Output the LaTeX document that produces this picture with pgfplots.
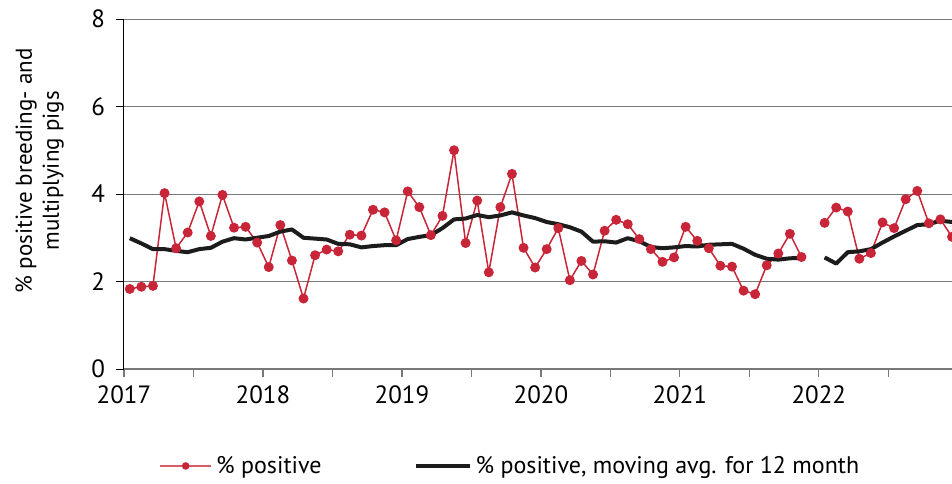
\documentclass[border=0pt]{standalone}
\usepackage{fontspec}
\setmainfont{PT Sans}
\usepackage{pgfplots}
\usepackage{pgfplotstable}
\pgfplotsset{compat=1.18}

\definecolor{posred}{RGB}{200,38,56}
\definecolor{avgblack}{RGB}{28,28,28}
\definecolor{gridgray}{RGB}{120,120,120}

% month index m (1 = Jan 2017), plotted at m-0.5
\pgfplotstableread{
m pos avg
1 1.83 2.99
2 1.88 2.87
3 1.90 2.74
4 4.02 2.74
5 2.76 2.70
6 3.12 2.67
7 3.83 2.74
8 3.04 2.77
9 3.98 2.91
10 3.23 2.99
11 3.25 2.96
12 2.89 3.00
13 2.33 3.04
14 3.29 3.14
15 2.48 3.19
16 1.61 3.00
17 2.60 2.98
18 2.73 2.96
19 2.69 2.86
20 3.07 2.85
21 3.05 2.78
22 3.64 2.81
23 3.58 2.83
24 2.94 2.83
25 4.06 2.97
26 3.70 3.02
27 3.06 3.06
28 3.50 3.22
29 5.00 3.42
30 2.88 3.44
31 3.85 3.52
32 2.21 3.47
33 3.70 3.51
34 4.46 3.58
35 2.77 3.51
36 2.32 3.45
37 2.74 3.36
38 3.22 3.31
39 2.03 3.24
40 2.47 3.14
41 2.16 2.91
42 3.16 2.92
43 3.41 2.89
44 3.31 2.99
45 2.97 2.92
46 2.74 2.79
47 2.45 2.76
48 2.55 2.78
49 3.25 2.81
50 2.93 2.80
51 2.76 2.84
52 2.36 2.85
53 2.34 2.86
54 1.79 2.75
55 1.71 2.61
56 2.37 2.52
57 2.64 2.50
58 3.09 2.53
59 2.56 2.54
60 nan nan
61 3.34 2.55
62 3.69 2.41
63 3.60 2.67
64 2.52 2.69
65 2.65 2.74
66 3.35 2.89
67 3.22 3.03
68 3.88 3.16
69 4.07 3.29
70 3.33 3.31
71 3.42 3.39
72 3.02 3.36
}\pigdata

\begin{document}
\begin{tikzpicture}
\begin{axis}[
    at={(0,0)}, anchor=south west,
    scale only axis,
    width=414pt, height=175pt,
    xmin=0, xmax=71.5, ymin=0, ymax=8,
    axis x line*=bottom, axis y line*=left,
    x axis line style={gridgray, line width=0.9pt, -},
    y axis line style={black, line width=0.5pt, -},
    xtick={0,6,...,66},
    xticklabels={2017,,2018,,2019,,2020,,2021,,2022,},
    ytick={0,2,4,6,8},
    tick align=outside,
    major tick length=4pt,
    x tick style={gridgray, line width=0.6pt},
    y tick style={black, line width=0.4pt},
    ymajorgrids,
    grid style={gridgray, line width=0.5pt},
    /pgf/number format/assume math mode=true,
    tick label style={font=\fontsize{12.5}{14}\selectfont},
    xticklabel style={yshift=-1pt},
    yticklabel style={xshift=-2pt},
    ylabel={\% positive breeding- and\\multiplying pigs},
    ylabel style={font=\fontsize{11.5}{13.5}\selectfont, align=center,
                  at={(axis description cs:-0.102,0.566)}, anchor=center},
    unbounded coords=jump,
    legend columns=2,
    legend cell align=left,
    legend style={draw=none, fill=none, font=\fontsize{12}{14}\selectfont,
                  inner sep=0pt,
                  at={(axis description cs:0.042,-0.277)}, anchor=west,
                  /tikz/every even column/.append style={column sep=44pt}},
  ]

\addplot[posred, line width=0.75pt, mark=*, mark size=2.1pt,
         mark options={fill=posred, draw=posred},
         legend image code/.code={
           \draw[posred!75, line width=1pt] (0pt,0pt) -- (25.5pt,0pt);
           \fill[posred] (12.75pt,0pt) circle (1.5pt);
         }]
  table[x expr=\thisrow{m}-0.5, y=pos] {\pigdata};
\addlegendentry{\% positive}

\addplot[avgblack, line width=2pt, line join=round,
         legend image code/.code={
           \draw[avgblack, line width=2pt] (0pt,0pt) -- (27pt,0pt);
         }]
  table[x expr=\thisrow{m}-0.5, y=avg] {\pigdata};
\addlegendentry{\% positive, moving avg. for 12 month}

\end{axis}
\pgfresetboundingbox
\path (-62pt,-57pt) rectangle (414pt,184.5pt);
\end{tikzpicture}
\end{document}
